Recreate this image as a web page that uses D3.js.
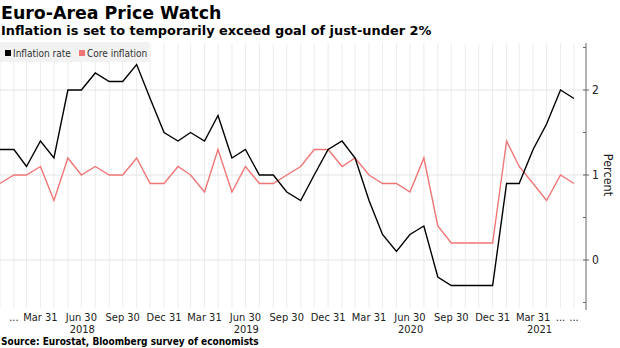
<!DOCTYPE html>
<html>
<head>
<meta charset="utf-8">
<script src="https://cdn.jsdelivr.net/npm/d3@7"></script>
<style>
  html, body { margin: 0; padding: 0; background: #fff; }
  svg { display: block; }
  .small { font-family: "DejaVu Sans Condensed", "Liberation Sans", sans-serif; }
  .heavy { font-family: "DejaVu Sans", "Liberation Sans", sans-serif; font-weight: bold; }
</style>
</head>
<body>
<svg id="chart" width="620" height="348"></svg>
<script>
// Monthly observations, end of month
const months = [
  "2017-12",
  "2018-01","2018-02","2018-03","2018-04","2018-05","2018-06",
  "2018-07","2018-08","2018-09","2018-10","2018-11","2018-12",
  "2019-01","2019-02","2019-03","2019-04","2019-05","2019-06",
  "2019-07","2019-08","2019-09","2019-10","2019-11","2019-12",
  "2020-01","2020-02","2020-03","2020-04","2020-05","2020-06",
  "2020-07","2020-08","2020-09","2020-10","2020-11","2020-12",
  "2021-01","2021-02","2021-03","2021-04","2021-05","2021-06"
];

// Headline HICP inflation, % y/y
const inflationRate = [
  1.3,
  1.3, 1.1, 1.4, 1.2, 2.0, 2.0,
  2.2, 2.1, 2.1, 2.3, 1.9, 1.5,
  1.4, 1.5, 1.4, 1.7, 1.2, 1.3,
  1.0, 1.0, 0.8, 0.7, 1.0, 1.3,
  1.4, 1.2, 0.7, 0.3, 0.1, 0.3,
  0.4, -0.2, -0.3, -0.3, -0.3, -0.3,
  0.9, 0.9, 1.3, 1.6, 2.0, 1.9
];

// Core inflation, % y/y
const coreInflation = [
  0.9,
  1.0, 1.0, 1.1, 0.7, 1.2, 1.0,
  1.1, 1.0, 1.0, 1.2, 0.9, 0.9,
  1.1, 1.0, 0.8, 1.3, 0.8, 1.1,
  0.9, 0.9, 1.0, 1.1, 1.3, 1.3,
  1.1, 1.2, 1.0, 0.9, 0.9, 0.8,
  1.2, 0.4, 0.2, 0.2, 0.2, 0.2,
  1.4, 1.1, 0.9, 0.7, 1.0, 0.9
];

const seriesNames = ["Inflation rate", "Core inflation"];
const seriesColors = ["#000000", "#f07676"];

const tickMonths = ["2018-01","2018-03","2018-06","2018-09","2018-12",
                    "2019-03","2019-06","2019-09","2019-12",
                    "2020-03","2020-06","2020-09","2020-12",
                    "2021-03","2021-05","2021-06"];
const tickLabels = ["...","Mar 31","Jun 30","Sep 30","Dec 31",
                    "Mar 31","Jun 30","Sep 30","Dec 31",
                    "Mar 31","Jun 30","Sep 30","Dec 31",
                    "Mar 31","...","..."];
const yearLabels = ["2018","2019","2020","2021"];

const yMajor = [0, 1, 2];
const yMinor = [-0.5, 0.5, 1.5, 2.5];

// month "YYYY-MM" -> last day of that month (UTC)
const monthEnd = s => {
  const [yy, mm] = s.split("-").map(Number);
  return new Date(Date.UTC(yy, mm, 0));
};

const dates = months.map(monthEnd);
const svg = d3.select("#chart");

const plot = { left: 0, right: 586, top: 43, bottom: 308 };

const x = d3.scaleUtc()
  .domain([dates[0], dates[dates.length - 1]])
  .range([0, 574]);

const y = d3.scaleLinear()
  .domain([-0.565, 2.553])
  .range([plot.bottom, plot.top]);

// Title block
svg.append("text").attr("class", "heavy")
  .attr("x", 1).attr("y", 19)
  .attr("font-size", 17.4).attr("fill", "#000")
  .text("Euro-Area Price Watch");
svg.append("text").attr("class", "heavy")
  .attr("x", 1).attr("y", 35)
  .attr("font-size", 12.9).attr("fill", "#000")
  .text("Inflation is set to temporarily exceed goal of just-under 2%");

// Vertical month gridlines
const gridMonths = d3.utcMonth.range(new Date(Date.UTC(2017, 11, 1)), new Date(Date.UTC(2021, 7, 1)))
  .map(d => new Date(Date.UTC(d.getUTCFullYear(), d.getUTCMonth() + 1, 0)))
  .filter(d => x(d) <= plot.right);
svg.append("g")
  .selectAll("line").data(gridMonths).join("line")
  .attr("x1", d => x(d)).attr("x2", d => x(d))
  .attr("y1", plot.top).attr("y2", plot.bottom)
  .attr("stroke", "#ececec").attr("stroke-width", 1);

// Horizontal gridlines at the major ticks
svg.append("g")
  .selectAll("line").data(yMajor).join("line")
  .attr("x1", plot.left).attr("x2", plot.right)
  .attr("y1", d => y(d)).attr("y2", d => y(d))
  .attr("stroke", "#e4e4e4").attr("stroke-width", 1);

// Right-hand value axis
const yAxis = d3.axisRight(y).tickValues(yMajor).tickSize(0).tickPadding(6)
  .tickFormat(d3.format("d"));
const ga = svg.append("g").attr("transform", `translate(${plot.right},0)`).call(yAxis);
ga.select(".domain").remove();
ga.selectAll("text").attr("class", "small").attr("font-size", 12).attr("fill", "#222");
ga.append("line")
  .attr("x1", 0).attr("x2", 0).attr("y1", plot.top).attr("y2", plot.bottom + 2)
  .attr("stroke", "#666").attr("stroke-width", 1);
ga.selectAll(".major").data(yMajor).join("line").attr("class", "major")
  .attr("x1", -3).attr("x2", 3).attr("y1", d => y(d)).attr("y2", d => y(d))
  .attr("stroke", "#666");
ga.selectAll(".minor").data(yMinor).join("line").attr("class", "minor")
  .attr("x1", -3).attr("x2", 0).attr("y1", d => y(d)).attr("y2", d => y(d))
  .attr("stroke", "#666");

svg.append("text").attr("class", "small")
  .attr("transform", `translate(${plot.right + 22},${y(1)}) rotate(90)`)
  .attr("text-anchor", "middle").attr("dy", "0.35em")
  .attr("font-size", 12.5).attr("fill", "#222")
  .text("Percent");

// Series lines (core drawn first so the headline sits on top)
const line = d3.line()
  .x((d, i) => x(dates[i]))
  .y(d => y(d));
[coreInflation, inflationRate].forEach((vals, k) => {
  svg.append("path")
    .datum(vals)
    .attr("fill", "none")
    .attr("stroke", seriesColors[1 - k])
    .attr("stroke-width", 1.4)
    .attr("stroke-linejoin", "miter")
    .attr("d", line);
});

// Legend
const lg = svg.append("g");
lg.append("rect").attr("x", 0).attr("y", 42).attr("width", 149).attr("height", 20)
  .attr("fill", "#f2f2f2");
const legendX = [5, 79];
seriesNames.forEach((name, i) => {
  lg.append("rect").attr("x", legendX[i]).attr("y", 50).attr("width", 6).attr("height", 6)
    .attr("fill", seriesColors[i]);
  lg.append("text").attr("class", "small")
    .attr("x", legendX[i] + 8).attr("y", 56.5)
    .attr("font-size", 10).attr("fill", "#333")
    .text(name);
});

// Time axis labels
const gx = svg.append("g").attr("class", "small").attr("font-size", 11).attr("fill", "#222");
gx.selectAll(".q").data(tickMonths).join("text").attr("class", "q")
  .attr("x", d => x(monthEnd(d))).attr("y", 321)
  .attr("text-anchor", "middle")
  .text((d, i) => tickLabels[i]);

gx.selectAll(".yr").data(yearLabels).join("text").attr("class", "yr")
  .attr("x", d => {
    const a = Math.max(plot.left, x(new Date(Date.UTC(+d, 0, 1))));
    const b = Math.min(plot.right, x(new Date(Date.UTC(+d, 11, 31))));
    return (a + b) / 2;
  })
  .attr("y", 333)
  .attr("text-anchor", "middle")
  .text(d => d);

// Source line
svg.append("text").attr("class", "small")
  .attr("x", 1).attr("y", 345)
  .attr("font-size", 10).attr("font-weight", "bold").attr("fill", "#000")
  .text("Source: Eurostat, Bloomberg survey of economists");
</script>
</body>
</html>
